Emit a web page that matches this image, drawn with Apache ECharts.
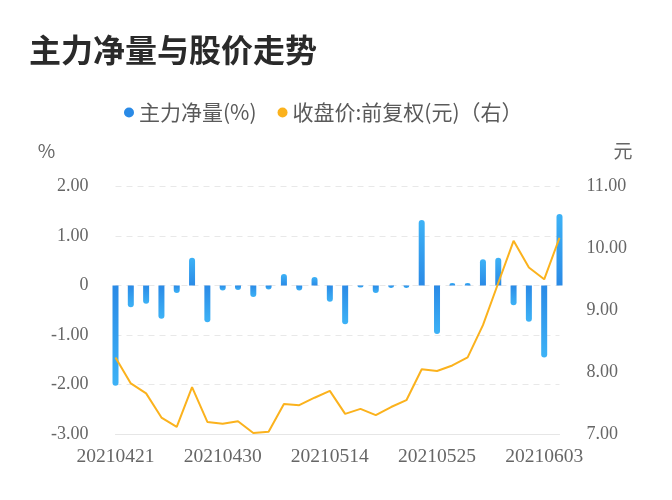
<!DOCTYPE html>
<html>
<head>
<meta charset="utf-8">
<script src="https://cdn.jsdelivr.net/npm/echarts@6/dist/echarts.min.js"></script>
<style>html,body{margin:0;padding:0;background:#fff;}#c{width:672px;height:500px;}</style>
</head>
<body>
<div id="c"></div>
<script>
const dates = ['20210421','20210422','20210423','20210426','20210427','20210428','20210429','20210430','20210506','20210507','20210510','20210511','20210512','20210513','20210514','20210517','20210518','20210519','20210520','20210521','20210524','20210525','20210526','20210527','20210528','20210531','20210601','20210602','20210603','20210604'];
const netFlow = [-2.02,-0.44,-0.37,-0.67,-0.15,0.56,-0.74,-0.10,-0.09,-0.23,-0.08,0.23,-0.10,0.17,-0.33,-0.78,-0.04,-0.15,-0.05,-0.05,1.32,-0.98,0.05,0.05,0.53,0.56,-0.40,-0.73,-1.45,1.44];
const price = [8.24,7.82,7.66,7.27,7.12,7.76,7.20,7.17,7.21,7.02,7.04,7.49,7.47,7.59,7.70,7.33,7.41,7.31,7.44,7.55,8.05,8.02,8.11,8.24,8.76,9.44,10.12,9.69,9.50,10.17];
const seriesNames = ['主力净量(%)', '收盘价:前复权(元)（右）'];
const leftTicks = { min: -3, max: 2, interval: 1 };
const rightTicks = { min: 7, max: 11, interval: 1 };

const DARK = '#2a8ae6', LIGHT = '#3db2f6';
function grad(tipTop) {
  return new echarts.graphic.LinearGradient(0, 0, 0, 1, tipTop
    ? [{offset: 0, color: LIGHT}, {offset: 1, color: DARK}]
    : [{offset: 0, color: DARK}, {offset: 1, color: LIGHT}]);
}
const barData = netFlow.map(v => ({
  value: v,
  itemStyle: { color: grad(v >= 0), borderRadius: v >= 0 ? [3,3,0,0] : [0,0,3,3] }
}));

const labelFont = "'Liberation Serif', 'Noto Sans CJK SC', serif";
const chart = echarts.init(document.getElementById('c'), null, {renderer: 'canvas'});
chart.setOption({
  animation: false,
  backgroundColor: '#fff',
  title: {
    text: '主力净量与股价走势',
    left: 24, top: 29,
    textStyle: { fontSize: 32, fontWeight: 'bold', color: '#2a2a2a', fontFamily: "'Noto Sans CJK SC'" }
  },
  legend: {
    top: 97, left: 119,
    itemGap: 21,
    icon: 'circle', itemWidth: 10, itemHeight: 10,
    textStyle: { fontSize: 21, color: '#5a5a5a', fontFamily: "'Noto Sans CJK SC'" },
    data: seriesNames
  },
  grid: { left: 115.5, right: 112.5, top: 186.3, bottom: 65.7, containLabel: false },
  xAxis: {
    type: 'category',
    data: dates,
    boundaryGap: false,
    axisLine: { show: true, onZero: false, lineStyle: { color: '#e6e6e6', width: 1 } },
    axisTick: { show: false },
    axisLabel: { interval: 6, color: '#666', fontSize: 19.5, margin: 13, fontFamily: labelFont },
    splitLine: { show: false }
  },
  yAxis: [{
    type: 'value',
    min: leftTicks.min, max: leftTicks.max, interval: leftTicks.interval,
    name: '%', nameLocation: 'end', nameGap: 26,
    nameTextStyle: { color: '#666', fontSize: 19, align: 'center', padding: [0, 138, 0, 0], fontFamily: "'Noto Sans CJK SC'" },
    axisLine: { show: false }, axisTick: { show: false },
    axisLabel: { color: '#666', fontSize: 18, margin: 27, fontFamily: labelFont,
      formatter: v => v === 0 ? '0' : v.toFixed(2) },
    splitLine: { show: true, lineStyle: { color: '#e8e8e8', type: [6, 5], width: 1 } }
  }, {
    type: 'value',
    min: rightTicks.min, max: rightTicks.max, interval: rightTicks.interval,
    name: '元', nameLocation: 'end', nameGap: 26,
    nameTextStyle: { color: '#666', fontSize: 19, align: 'center', padding: [0, 0, 0, 127], fontFamily: "'Noto Sans CJK SC'" },
    axisLine: { show: false }, axisTick: { show: false },
    axisLabel: { color: '#666', fontSize: 18, margin: 27, fontFamily: labelFont,
      formatter: v => v.toFixed(2) },
    splitLine: { show: false }
  }],
  series: [{
    name: seriesNames[0],
    type: 'bar',
    yAxisIndex: 0,
    barWidth: 6,
    clip: false,
    itemStyle: { color: DARK },
    data: barData
  }, {
    name: seriesNames[1],
    type: 'line',
    yAxisIndex: 1,
    showSymbol: false,
    symbol: 'none',
    clip: false,
    itemStyle: { color: '#fbb21d' },
    lineStyle: { color: '#fbb21d', width: 2 },
    data: price
  }]
});
</script>
</body>
</html>
